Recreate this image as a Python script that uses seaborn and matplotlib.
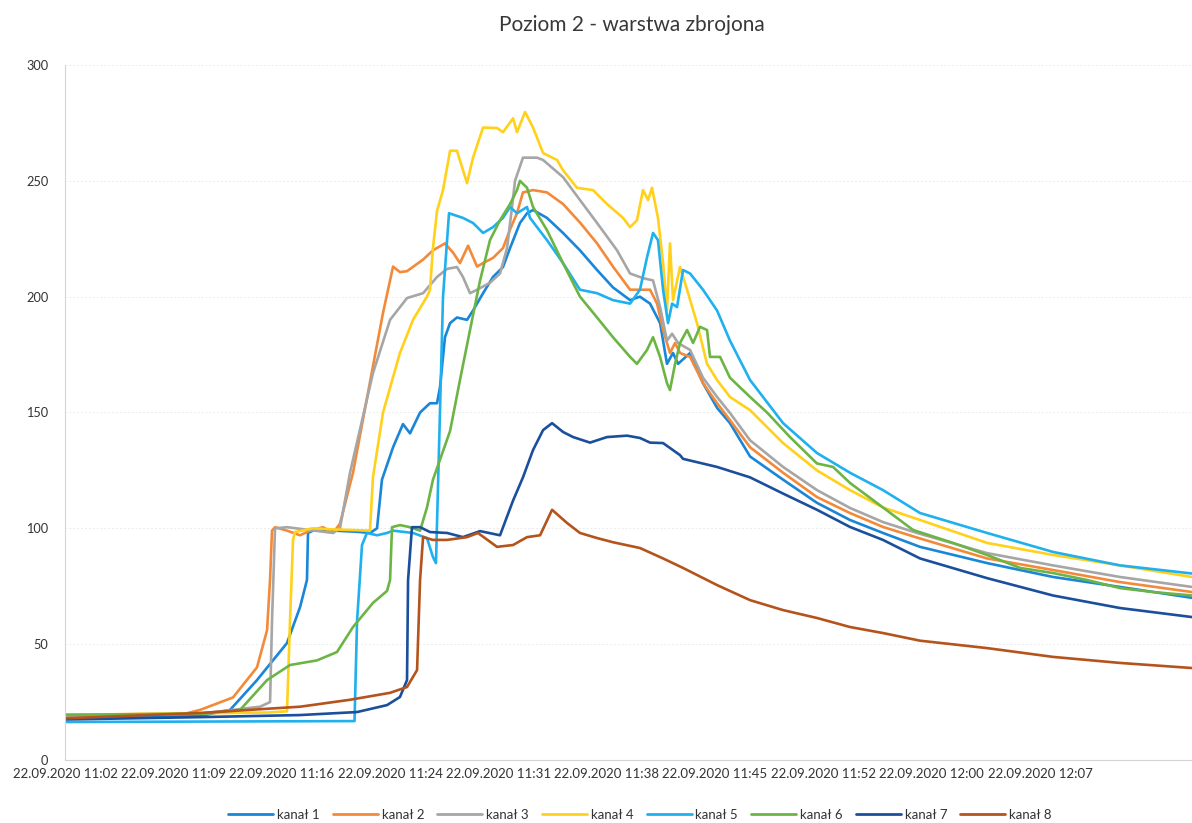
import numpy as np
import pandas as pd
import matplotlib
matplotlib.use("Agg")
import matplotlib.pyplot as plt
import seaborn as sns

# ---------------------------------------------------------------
# Data
# x = minutes after the first sample (22.09.2020 ~11:02), y = value
# ---------------------------------------------------------------
kanal1_t = [0, 9, 11.0, 12.8, 14.8, 15.67, 16.13, 16.2, 16.53, 18.0, 19.5, 20.33, 20.8,
            21.13, 21.87, 22.53, 23.0, 23.67, 24.33, 24.8, 25.0, 25.33, 25.67, 26.13, 26.8,
            27.2, 27.87, 28.53, 29.2, 29.67, 30.33, 30.8, 31.2, 32.13, 33.2, 34.33, 35.47,
            36.53, 37.67, 38.33, 39.0, 39.67, 40.13, 40.53, 40.87, 41.67, 42.53, 43.47,
            44.33, 45.67, 47.87, 50.13, 52.33, 54.53, 57.0, 61.47, 65.87, 70.33, 75.13]
kanal1_v = [18, 19, 21.6, 34.5, 50.5, 66, 77.7, 98, 99, 99, 98.5, 98, 100,
            121, 135, 145, 141, 150, 154, 154, 161, 182.5, 188.6, 191, 190,
            194, 201.5, 208.5, 212.8, 221, 231.8, 236, 237.4, 234, 227.5, 220, 211.5,
            204, 198.5, 200, 197, 188.6, 171, 175.7, 171, 175.7, 162.7, 152,
            145.4, 131, 121, 111, 103.6, 98, 92, 85, 79, 74.7, 70]

kanal2_t = [0, 8, 9, 11.2, 12.8, 13.47, 13.67, 13.8, 14.0, 14.8, 15.67, 16.33, 17.2,
            17.87, 18.33, 19.2, 20.53, 21.2, 21.87, 22.33, 22.8, 23.87, 24.53, 25.33,
            25.87, 26.33, 26.87, 27.47, 27.87, 28.53, 29.2, 29.67, 30.13, 30.53, 31.2,
            32.13, 33.2, 34.33, 35.47, 36.53, 37.67, 38.33, 39.0, 39.47, 39.87, 40.33,
            40.67, 41.0, 41.67, 42.53, 43.47, 44.33, 45.67, 47.87, 50.13, 52.33, 54.53,
            56.8, 61.47, 65.87, 70.33, 75.13]
kanal2_v = [19.5, 20, 21.6, 27, 40, 56, 78, 99, 100.5, 99, 97, 99, 100.5,
            98, 102, 124, 170, 193, 213, 210.6, 211, 216, 220, 223,
            219, 214.5, 222, 213, 214.5, 216.7, 221, 229, 236, 245, 246,
            245, 240, 232, 223, 213, 203, 203, 203, 197, 185.6, 175.7,
            180, 175.7, 174, 162.7, 154, 146.7, 135, 124, 113.5, 106.6, 100.6,
            96, 87, 82, 76.8, 72.5]

kanal3_t = [0, 9, 13.0, 13.67, 13.8, 14.0, 14.8, 17.87, 18.33, 19.0, 20.53, 21.67,
            22.8, 23.87, 24.8, 25.47, 26.13, 26.53, 27.0, 27.47, 28.33, 29.0, 29.47,
            29.8, 30.0, 30.53, 31.47, 31.87, 33.2, 34.33, 35.47, 36.8, 37.67, 38.53,
            39.2, 39.67, 40.13, 40.47, 40.87, 41.67, 42.53, 43.47, 44.33, 45.67, 47.87,
            50.13, 52.33, 54.53, 56.8, 61.47, 65.87, 70.33, 75.13]
kanal3_v = [19, 20, 23, 25, 60, 100, 100.5, 98, 100, 124, 167, 190,
            199.4, 201.5, 208.5, 212, 212.8, 208.5, 201.5, 203, 206, 210, 221,
            238.7, 250, 260, 260, 259, 251.6, 241.7, 231.8, 220, 210, 208,
            207, 195.5, 181, 184, 180, 177, 165, 156.7, 149.8, 138, 126.5,
            116.5, 108.8, 102.7, 98, 89.3, 84, 79, 74.7]

kanal4_t = [0, 13.5, 14.8, 15.0, 15.2, 15.33, 16.5, 18.0, 20.33, 20.53, 21.2, 22.33,
            23.2, 24.13, 24.33, 24.53, 24.8, 25.2, 25.67, 26.13, 26.8, 27.2, 27.87,
            28.8, 29.2, 29.87, 30.13, 30.67, 31.2, 31.87, 32.8, 33.2, 34.13, 35.2,
            36.13, 37.2, 37.67, 38.13, 38.53, 38.87, 39.13, 39.53, 39.87, 40.13, 40.33,
            40.53, 41.0, 41.47, 42.13, 42.8, 43.47, 44.33, 45.67, 47.87, 50.13, 52.33,
            54.53, 57.0, 61.47, 65.87, 70.33, 75.13]
kanal4_v = [19.5, 20.5, 21, 60, 95, 98.4, 100, 99.5, 99, 122, 150, 175.7,
            190, 200, 203, 221, 237, 246, 263, 263, 249, 260, 273,
            272.8, 271, 277, 271, 279.7, 273, 262, 259, 254.6, 247, 246,
            240, 234, 230, 233, 246, 241.7, 247, 234, 214.5, 194, 223,
            198.5, 212.8, 203, 188.6, 171, 164, 156.7, 151, 136.8, 125, 116.5,
            109, 103.6, 93.7, 88.5, 84, 79]

kanal5_t = [0, 19.3, 19.47, 19.8, 20.13, 20.8, 21.47, 21.87, 23.2, 24.13, 24.53, 24.73,
            25.2, 25.6, 26.53, 27.2, 27.87, 28.53, 29.2, 29.67, 30.13, 30.8, 31.0, 32.13,
            33.2, 34.33, 35.47, 36.53, 37.67, 38.33, 38.8, 39.2, 39.53, 39.87, 40.2,
            40.47, 40.8, 41.2, 41.67, 42.53, 43.47, 44.33, 45.67, 47.87, 50.13, 52.33,
            54.53, 57.0, 61.47, 65.87, 70.33, 75.13]
kanal5_v = [16.4, 16.8, 60, 92.8, 98, 97, 98, 99, 98, 95.8, 87.6, 85,
            200, 236, 234, 231.8, 227.5, 230, 234, 238.7, 236, 238.7, 234, 224.4,
            214.5, 203, 201.5, 198.5, 197, 203, 217, 227.5, 224.4, 203, 188.6,
            197, 195.5, 211.5, 210, 203, 194, 181, 164, 145.4, 132.5, 124,
            116.5, 106.6, 98, 89.8, 84, 80.5]

kanal6_t = [0, 9, 11.67, 13.47, 15.0, 16.8, 18.13, 19.2, 20.53, 21.47, 21.67, 21.8,
            22.33, 23.0, 23.67, 24.13, 24.53, 25.67, 26.33, 27.0, 27.67, 28.33, 29.0,
            29.67, 30.13, 30.33, 30.8, 31.2, 32.13, 33.2, 34.33, 35.47, 36.53, 37.67,
            38.13, 38.8, 39.2, 39.67, 40.13, 40.33, 40.67, 41.0, 41.47, 41.87, 42.33,
            42.8, 43.0, 43.67, 44.33, 45.67, 46.8, 48.33, 50.13, 51.2, 52.33, 54.53,
            56.53, 59.2, 61.47, 63.67, 65.87, 68.13, 70.33, 72.53, 75.13]
kanal6_v = [19.5, 20, 21.6, 34.5, 41, 43, 46.6, 57.4, 67.8, 73, 77.7, 100.5,
            101.4, 100.5, 99, 109, 121, 142, 164, 185.6, 207, 224.4, 233,
            240, 246, 250, 247, 238.7, 228.7, 214.5, 200, 191, 182.5, 174,
            171, 177, 182.5, 174, 162.7, 159.7, 171, 180, 185.6, 180, 187,
            185.6, 174, 174, 165, 156.7, 150, 139.4, 128, 126.5, 119.6, 109,
            99.3, 93.7, 88.5, 82.9, 80.7, 77.7, 74.2, 72.5, 71]

kanal7_t = [0, 9, 15.67, 19.47, 21.47, 22.33, 22.8, 22.87, 23.13, 23.67, 24.33, 25.47,
            26.53, 27.67, 29.0, 29.87, 30.53, 31.2, 31.87, 32.47, 33.2, 33.87, 35.0,
            36.13, 37.47, 38.33, 39.0, 39.87, 41.0, 41.2, 43.47, 45.67, 47.87, 50.13,
            52.33, 54.53, 57.0, 61.47, 65.87, 70.33, 75.13]
kanal7_v = [17.5, 18.5, 19.4, 20.7, 23.7, 27.2, 34.5, 77.7, 100.5, 100.5, 98.4, 98,
            96.2, 98.8, 97, 112, 122, 133.8, 142.4, 145.4, 141.6, 139.4, 137,
            139.4, 140, 139, 137, 136.8, 131.6, 130, 126.5, 122, 115, 108,
            100.6, 95, 87, 78.5, 71, 65.6, 61.7]

kanal8_t = [0, 9, 15.67, 19.0, 21.67, 22.8, 23.47, 23.67, 23.87, 24.53, 25.47, 26.8,
            27.53, 28.8, 29.87, 30.8, 31.67, 32.47, 33.47, 34.33, 35.47, 36.53, 38.33,
            39.87, 41.2, 43.47, 45.67, 47.87, 50.13, 52.33, 54.53, 57.0, 61.47, 65.87,
            70.33, 75.13]
kanal8_v = [18, 20.3, 23, 26, 29, 31.5, 38.8, 77.7, 96.2, 95, 95, 96.2,
            98, 92, 92.8, 96.2, 97, 108, 102.3, 98, 95.8, 94, 91.5,
            87, 82.9, 75.5, 69, 64.7, 61.3, 57.4, 54.8, 51.5, 48.3, 44.5,
            41.9, 39.7]

channel_names = ["kanał 1", "kanał 2", "kanał 3", "kanał 4",
                 "kanał 5", "kanał 6", "kanał 7", "kanał 8"]
channel_colors = ["#1a86d8", "#f28a3a", "#a6a6a6", "#ffd11a",
                  "#1fb0ee", "#6cb545", "#1b4f9c", "#b5531c"]

tick_labels = ["22.09.2020 11:02", "22.09.2020 11:09", "22.09.2020 11:16",
               "22.09.2020 11:24", "22.09.2020 11:31", "22.09.2020 11:38",
               "22.09.2020 11:45", "22.09.2020 11:52", "22.09.2020 12:00",
               "22.09.2020 12:07"]
tick_step_min = 65 / 9  # label every ~7.2 min

# ---------------------------------------------------------------
# Build long-form table
# ---------------------------------------------------------------
series = [(kanal1_t, kanal1_v), (kanal2_t, kanal2_v), (kanal3_t, kanal3_v),
          (kanal4_t, kanal4_v), (kanal5_t, kanal5_v), (kanal6_t, kanal6_v),
          (kanal7_t, kanal7_v), (kanal8_t, kanal8_v)]
frames = []
for name, (t, v) in zip(channel_names, series):
    frames.append(pd.DataFrame({"minuty": t, "wartosc": v, "kanal": name}))
df = pd.concat(frames, ignore_index=True)

# ---------------------------------------------------------------
# Plot
# ---------------------------------------------------------------
sns.set_theme(style="white")
plt.rcParams["font.family"] = ["Lato", "DejaVu Sans"]

W, H = 1192, 823
fig = plt.figure(figsize=(W / 100, H / 100), dpi=100)
ax = fig.add_axes([65 / W, (H - 760) / H, 1127 / W, 695 / H])

sns.lineplot(data=df, x="minuty", y="wartosc", hue="kanal",
             hue_order=channel_names, palette=channel_colors,
             estimator=None, sort=False, linewidth=1.9, ax=ax, legend=False)

ax.set_xlim(0, 75.13)
ax.set_ylim(0, 300)
ax.set_yticks(range(0, 301, 50))
ax.set_xticks([i * tick_step_min for i in range(len(tick_labels))])
ax.set_xticklabels(tick_labels)
ax.tick_params(axis="x", length=0, pad=6, labelsize=9.5, colors="#333333")
ax.tick_params(axis="y", length=0, pad=12, labelsize=9.2, colors="#333333")
ax.set_xlabel("")
ax.set_ylabel("")

ax.grid(axis="y", color="#ececec", linewidth=0.7, linestyle=(0, (2, 2)))
ax.set_axisbelow(True)
for side in ["top", "right"]:
    ax.spines[side].set_visible(False)
ax.spines["left"].set_color("#d4d4d4")
ax.spines["left"].set_linewidth(0.8)
ax.spines["bottom"].set_color("#d4d4d4")
ax.spines["bottom"].set_linewidth(0.8)

fig.text(632 / W, 1 - 25 / H, "Poziom 2 - warstwa zbrojona",
         ha="center", va="center", fontsize=15, color="#383838")

handles = [plt.Line2D([], [], color=c, linewidth=2.0) for c in channel_colors]
fig.legend(handles, channel_names, loc="center", ncol=8,
           bbox_to_anchor=(640 / W, 1 - 815 / H), frameon=False,
           fontsize=9.5, handlelength=3.4, handletextpad=0.3,
           columnspacing=1.0, labelcolor="#333333")

fig.savefig("out.png", dpi=100)
